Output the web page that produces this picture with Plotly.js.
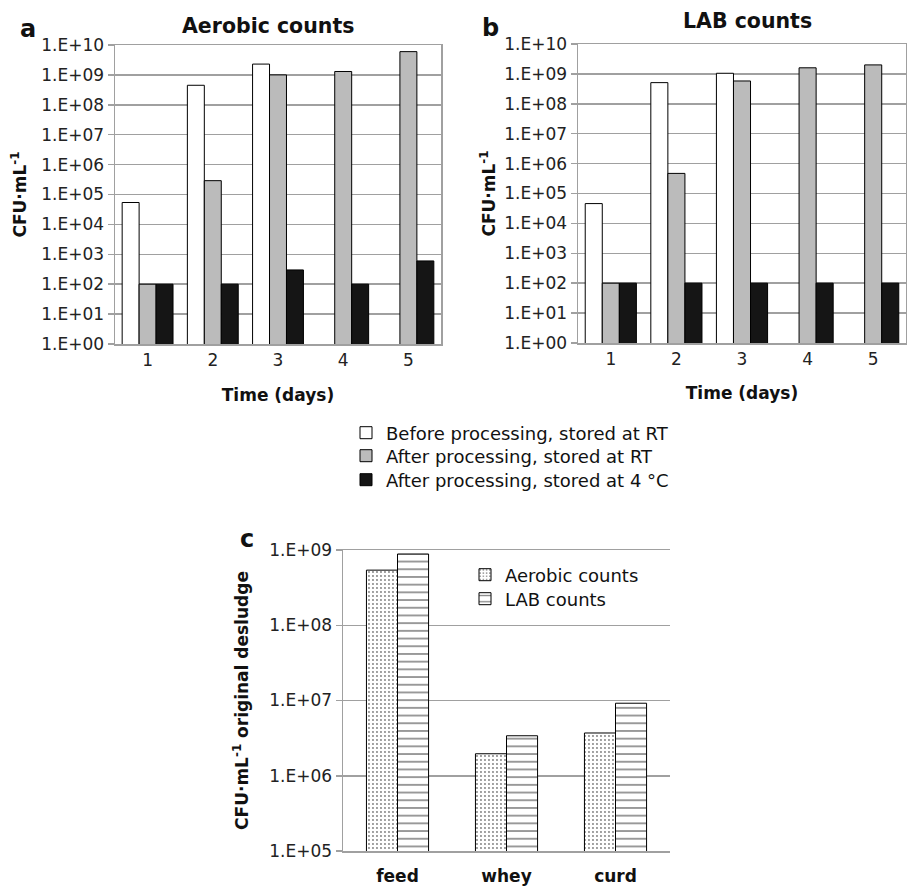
<!DOCTYPE html>
<html>
<head>
<meta charset="utf-8">
<script src="https://cdn.plot.ly/plotly-3.0.1.min.js"></script>
<style>html,body{margin:0;padding:0;background:#fff;}#chart{width:907px;height:886px;}</style>
</head>
<body>
<div id="chart"></div>
<script>
// ---- data ----
const days = ['1', '2', '3', '4', '5'];
const aerobicBeforeRT = [5.4e4, 4.5e8, 2.3e9, null, null];
const aerobicAfterRT = [100, 2.9e5, 1.0e9, 1.3e9, 6.0e9];
const aerobicAfter4C = [100, 100, 300, 100, 600];
const labBeforeRT = [4.6e4, 5.1e8, 1.05e9, null, null];
const labAfterRT = [100, 4.7e5, 5.8e8, 1.6e9, 2.0e9];
const labAfter4C = [100, 100, 100, 100, 100];
const stages = ['feed', 'whey', 'curd'];
const stageAerobic = [5.4e8, 1.96e6, 3.7e6];
const stageLAB = [8.85e8, 3.4e6, 9.2e6];
const seriesNames = ['Before processing, stored at RT', 'After processing, stored at RT', 'After processing, stored at 4 °C'];
const stageNames = ['Aerobic counts', 'LAB counts'];
const decadeVals = [1, 10, 100, 1e3, 1e4, 1e5, 1e6, 1e7, 1e8, 1e9, 1e10];
const decadeText = ['1.E+00', '1.E+01', '1.E+02', '1.E+03', '1.E+04', '1.E+05', '1.E+06', '1.E+07', '1.E+08', '1.E+09', '1.E+10'];

const FONT = 'DejaVu Sans, Liberation Sans, Arial, sans-serif';
const GRID = '#a0a0a0';
const fills = ['#ffffff', '#bbbbbb', '#151515'];
const line = {color: '#000', width: 1};
const mainLegends = ['legend', 'legend3', 'legend4'];
const cLegends = ['legend2', 'legend5'];

const traces = [];
[aerobicBeforeRT, aerobicAfterRT, aerobicAfter4C].forEach((v, i) => {
  traces.push({type: 'bar', x: days, y: v, name: seriesNames[i], xaxis: 'x', yaxis: 'y',
    marker: {color: fills[i], line: line}, legend: mainLegends[i], showlegend: true});
});
[labBeforeRT, labAfterRT, labAfter4C].forEach((v, i) => {
  traces.push({type: 'bar', x: days, y: v, name: seriesNames[i], xaxis: 'x2', yaxis: 'y2',
    marker: {color: fills[i], line: line}, showlegend: false});
});
traces.push({type: 'bar', x: stages, y: stageAerobic, name: stageNames[0], xaxis: 'x3', yaxis: 'y3',
  width: 0.285, offset: -0.285,
  marker: {color: '#fff', line: line, pattern: {shape: '.', fgcolor: '#000', bgcolor: '#fff', size: 4, solidity: 0.18, fillmode: 'overlay'}},
  legend: cLegends[0], showlegend: true});
traces.push({type: 'bar', x: stages, y: stageLAB, name: stageNames[1], xaxis: 'x3', yaxis: 'y3',
  width: 0.285, offset: 0,
  marker: {color: '#fff', line: line, pattern: {shape: '-', fgcolor: '#000', bgcolor: '#fff', size: 7.7, solidity: 0.2, fillmode: 'overlay'}},
  legend: cLegends[1], showlegend: true});

const W = 907, H = 886;
const px = (a, b) => [a / W, b / W];
const py = (top, bottom) => [1 - bottom / H, 1 - top / H];

const tickFont = {family: FONT, size: 17, color: '#222'};
const axTitleFont = {family: FONT, size: 17, color: '#111', weight: 'bold'};
function yax(domain, range, anchor, mirror) {
  return {domain: domain, type: 'log', range: range, anchor: anchor,
    tickvals: decadeVals, ticktext: decadeText, tickfont: tickFont,
    showgrid: true, gridcolor: GRID, gridwidth: 1.5,
    showline: true, linecolor: GRID, linewidth: 1.5, mirror: mirror,
    ticks: 'outside', ticklen: 6, tickcolor: GRID, tickwidth: 1.5, zeroline: false, fixedrange: true};
}
function xax(domain, anchor, mirror, bold) {
  return {domain: domain, type: 'category', anchor: anchor,
    tickfont: {family: FONT, size: 17, color: bold ? '#111' : '#222', weight: bold ? 'bold' : 'normal'},
    showline: true, linecolor: GRID, linewidth: 1.5, mirror: mirror,
    ticks: '', showgrid: false, zeroline: false, fixedrange: true};
}
function legendAt(xPx, yPx) {
  return {x: xPx / W, y: 1 - yPx / H, xanchor: 'left', yanchor: 'middle',
    font: {family: FONT, size: 18, color: '#111'}, bgcolor: 'rgba(0,0,0,0)', borderwidth: 0,
    itemclick: false, itemdoubleclick: false};
}

const layout = {
  width: W, height: H,
  margin: {l: 0, r: 0, t: 0, b: 0},
  paper_bgcolor: '#fff', plot_bgcolor: '#fff',
  font: {family: FONT, color: '#111'},
  barmode: 'group', bargap: 0.22, bargroupgap: 0,
  xaxis: Object.assign(xax(px(115, 441), 'y', true, false), {
    title: {text: 'Time (days)', font: axTitleFont, standoff: 20}}),
  yaxis: Object.assign(yax(py(45, 344), [0, 10], 'x', true), {
    title: {text: 'CFU·mL<sup>-1</sup>', font: axTitleFont, standoff: 10}}),
  xaxis2: Object.assign(xax(px(578, 906), 'y2', true, false), {
    title: {text: 'Time (days)', font: axTitleFont, standoff: 19}}),
  yaxis2: Object.assign(yax(py(44, 343), [0, 10], 'x2', true), {
    title: {text: 'CFU·mL<sup>-1</sup>', font: axTitleFont, standoff: 4}}),
  xaxis3: Object.assign(xax(px(343, 670), 'y3', true, true), {ticklabelstandoff: 9}),
  yaxis3: Object.assign(yax(py(550, 851), [5, 9], 'x3', false), {
    title: {text: 'CFU·mL<sup>-1</sup> original desludge', font: axTitleFont, standoff: 16}}),
  legend: legendAt(346, 433),
  legend3: legendAt(346, 456),
  legend4: legendAt(346, 480),
  legend2: legendAt(465, 575),
  legend5: legendAt(465, 599),
  annotations: [
    {text: '<b>a</b>', x: 28 / W, y: 1 - 29 / H, xref: 'paper', yref: 'paper', xanchor: 'center', yanchor: 'middle', showarrow: false, font: {family: FONT, size: 24, color: '#111'}},
    {text: '<b>b</b>', x: 490 / W, y: 1 - 28 / H, xref: 'paper', yref: 'paper', xanchor: 'center', yanchor: 'middle', showarrow: false, font: {family: FONT, size: 24, color: '#111'}},
    {text: '<b>c</b>', x: 247 / W, y: 1 - 539 / H, xref: 'paper', yref: 'paper', xanchor: 'center', yanchor: 'middle', showarrow: false, font: {family: FONT, size: 24, color: '#111'}},
    {text: '<b>Aerobic counts</b>', x: 268 / W, y: 1 - 26 / H, xref: 'paper', yref: 'paper', xanchor: 'center', yanchor: 'middle', showarrow: false, font: {family: FONT, size: 20.5, color: '#111'}},
    {text: '<b>LAB counts</b>', x: 747 / W, y: 1 - 21 / H, xref: 'paper', yref: 'paper', xanchor: 'center', yanchor: 'middle', showarrow: false, font: {family: FONT, size: 20.5, color: '#111'}}
  ]
};

Plotly.newPlot('chart', traces, layout, {displayModeBar: false, staticPlot: true});
</script>
</body>
</html>
